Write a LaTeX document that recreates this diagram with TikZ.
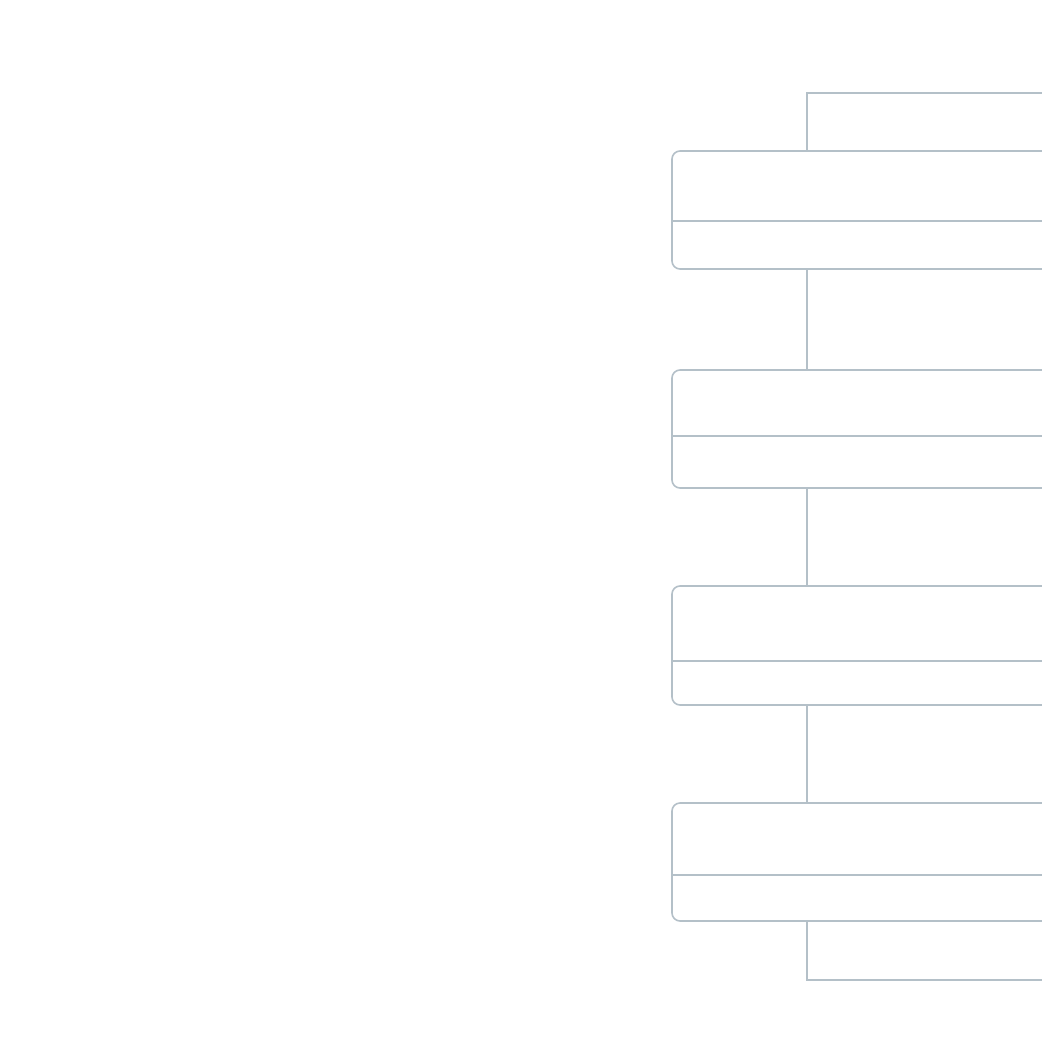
\documentclass[tikz,border=0pt]{standalone}
\usetikzlibrary{positioning}
\definecolor{linegrey}{HTML}{B4C0C8}
\begin{document}
\begin{tikzpicture}[x=1pt,y=-1pt]
  \tikzset{card/.style={draw=linegrey, line width=1.6pt, rounded corners=8pt, fill=white, inner sep=0pt, outer sep=0pt, minimum width=440pt, anchor=north west}};
  \tikzset{wire/.style={draw=linegrey, line width=1.6pt}};
  \useasboundingbox (0,0) rectangle (1042,1042);
  \clip (0,0) rectangle (1042,1042);

  \coordinate (spine) at (807,0);
  \coordinate (in) at (1060,93);
  \coordinate (out) at (1060,980);

  % cards, top y / height / divider y
  \foreach \n/\top/\h/\cut in {1/151/118/221, 2/370/118/436, 3/586/119/661, 4/803/118/875} {
    \node[card, minimum height=\h pt] (b\n) at (672,\top) {};
    \draw[wire] (b\n.west |- 0,\cut) -- (b\n.east |- 0,\cut);
  }

  \draw[wire] (in) -| (b1.north -| spine);
  \draw[wire] (b1.south -| spine) -- (b2.north -| spine);
  \draw[wire] (b2.south -| spine) -- (b3.north -| spine);
  \draw[wire] (b3.south -| spine) -- (b4.north -| spine);
  \draw[wire] (b4.south -| spine) |- (out);
\end{tikzpicture}
\end{document}
